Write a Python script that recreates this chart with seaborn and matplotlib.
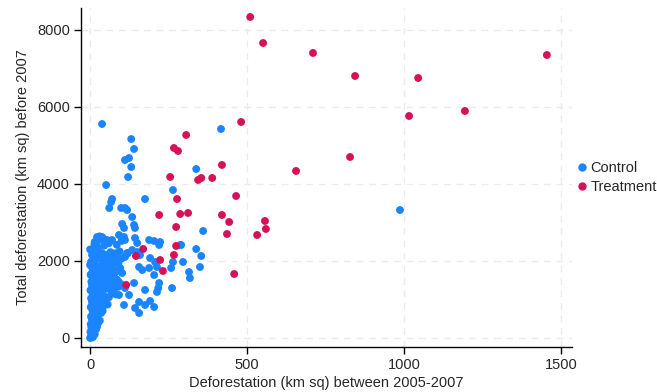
import seaborn as sns
import matplotlib.pyplot as plt
import pandas as pd

# Treatment group: (deforestation 2005-2007, total deforestation before 2007)
treat_x = [510, 551, 710, 844, 1045, 1455, 1016, 1194, 481, 306, 828, 656,
           267, 280, 420, 354, 344, 389, 255, 465, 220, 277, 287, 312, 274,
           420, 443, 436, 532, 557, 560, 274, 169, 146, 223, 267, 232, 459, 115]
treat_y = [8338, 7662, 7403, 6805, 6753, 7350, 5766, 5896, 5610, 5273, 4701, 4338,
           4935, 4857, 4494, 4156, 4104, 4156, 4182, 3688, 3195, 3610, 3221, 3247, 2883,
           3195, 3013, 2701, 2675, 3039, 2831, 2390, 2312, 2130, 2026, 2156, 1740, 1662, 1377]

# Control group
ctrl_x = [38, 131, 140, 111, 124, 131, 121, 417, 338, 51, 70, 67, 61, 264, 175,
          99, 111, 118, 134, 102, 108, 140, 143, 22, 29, 38, 54, 70, 92, 108,
          111, 143, 150, 188, 220, 223, 6, 13, 38, 45, 76, 86, 111, 118, 134,
          150, 159, 191, 207, 213, 0, 22, 38, 54, 80, 96, 102, 156, 166, 188,
          204, 220, 140, 175, 213, 2, 16, 32, 54, 76, 92, 102, 111, 124, 92,
          108, 156, 143, 175, 191, 204, 156, 287, 354, 350, 315, 318, 258, 261, 217,
          296, 264, 987, 338, 360, 290, 204,
          0, 3, 8, 12, 5, 15, 1, 7, 13, 19, 4, 10, 22,
          2, 9, 16, 25, 31, 6, 14, 21, 3, 11, 18, 27, 35, 8, 24, 40, 15,
          2, 10, 19, 30, 45, 56, 6, 14, 25, 38, 50,
          3, 12, 22, 33, 44, 60, 8, 18, 29, 40, 68, 82,
          1, 10, 20, 31, 42, 55, 75, 90, 6, 16, 28, 48, 64, 100,
          4, 13, 24, 36, 46, 60, 70, 85, 9, 20,
          2, 12, 30, 44, 58, 66, 80, 8, 26,
          5, 15, 34, 48, 62, 75, 90, 3, 20, 40, 58, 100,
          10, 28, 50, 65, 80, 94, 18, 120,
          25, 45, 60, 15, 85, 30, 42, 100,
          5, 18, 10, 28, 36, 48, 52, 70, 0, 14]
ctrl_y = [5558, 5168, 4909, 4623, 4675, 4441, 4181, 5428, 4389, 3973, 3610, 3532, 3376, 3844, 3610,
          3376, 3376, 3324, 3142, 2961, 2857, 2935, 2857, 2623, 2545, 2623, 2545, 2545, 2675, 2623,
          2545, 2597, 2467, 2545, 2415, 2493, 2156, 2026, 2207, 2104, 2078, 2078, 2104, 2207, 2285,
          2233, 2156, 2078, 1974, 1844, 1896, 1844, 1818, 1766, 1766, 1818, 1688, 1844, 1766, 1818,
          1636, 1428, 1428, 1247, 1195, 1636, 1558, 1584, 1454, 1428, 1454, 1376, 1298, 1117, 1117,
          857, 935, 779, 857, 961, 805, 649, 2415, 2130, 1844, 1714, 1558, 1818, 1298, 1298,
          1974, 1974, 3324, 2311, 2779, 2415, 2519,
          0, 40, 15, 70, 110, 100, 160, 200, 180, 230, 280, 300, 290,
          360, 390, 420, 380, 450, 480, 510, 470, 560, 600, 580, 620, 650, 700, 720, 700, 750,
          800, 830, 860, 810, 850, 870, 930, 960, 950, 980, 930,
          1030, 1060, 1090, 1050, 1100, 1060, 1150, 1180, 1160, 1200, 1180, 1130,
          1240, 1270, 1300, 1260, 1330, 1290, 1250, 1330, 1370, 1390, 1400, 1380, 1360, 1380,
          1460, 1490, 1470, 1520, 1450, 1500, 1540, 1520, 1560, 1590,
          1650, 1700, 1660, 1720, 1680, 1750, 1700, 1780, 1790,
          1860, 1900, 1880, 1930, 1900, 1980, 1950, 1980, 2050, 2020, 2070, 2060,
          2140, 2180, 2160, 2230, 2200, 2250, 2290, 2200,
          2350, 2400, 2460, 2500, 2420, 2640, 2580, 2520,
          520, 640, 880, 1000, 1230, 1600, 1420, 1880, 2300, 2440]

groups = ["Control", "Treatment"]
colors = ["#1a85ff", "#d41159"]

df = pd.DataFrame({
    "x": ctrl_x + treat_x,
    "y": ctrl_y + treat_y,
    "group": ["Control"] * len(ctrl_x) + ["Treatment"] * len(treat_x),
})

sns.set_style("white")
plt.rcParams["font.family"] = ["Liberation Sans", "DejaVu Sans"]

fig = plt.figure(figsize=(6.57, 3.92), dpi=100)
ax = fig.add_axes([0.1233, 0.1148, 0.7473, 0.8648])

sns.scatterplot(data=df, x="x", y="y", hue="group", hue_order=groups,
                palette=colors, s=32, linewidth=0, alpha=1, ax=ax, legend=False, zorder=3)

ax.set_xlim(-29, 1535)
ax.set_ylim(-234, 8571)
ax.set_xticks([0, 500, 1000, 1500])
ax.set_yticks([0, 2000, 4000, 6000, 8000])
ax.grid(True, color="#ebebeb", linestyle=(0, (5, 4)), linewidth=1)
ax.set_axisbelow(True)
for s in ["top", "right"]:
    ax.spines[s].set_visible(False)
for s in ["left", "bottom"]:
    ax.spines[s].set_color("black")
    ax.spines[s].set_linewidth(1)
ax.tick_params(axis="both", direction="out", length=5, width=1, color="black",
               labelsize=10.5, left=True, bottom=True, pad=3)
ax.set_xlabel("Deforestation (km sq) between 2005-2007", fontsize=10.5, labelpad=3)
ax.set_ylabel("Total deforestation (km sq) before 2007", fontsize=10.5, labelpad=5)

handles = [plt.Line2D([], [], marker="o", linestyle="", color=c, markersize=5) for c in colors]
fig.legend(handles, groups, loc="upper left", bbox_to_anchor=(0.868, 0.605),
           frameon=False, fontsize=10.5, handletextpad=0.2, labelspacing=0.35,
           handlelength=0.8, borderaxespad=0)

fig.savefig("out.png", dpi=100)
